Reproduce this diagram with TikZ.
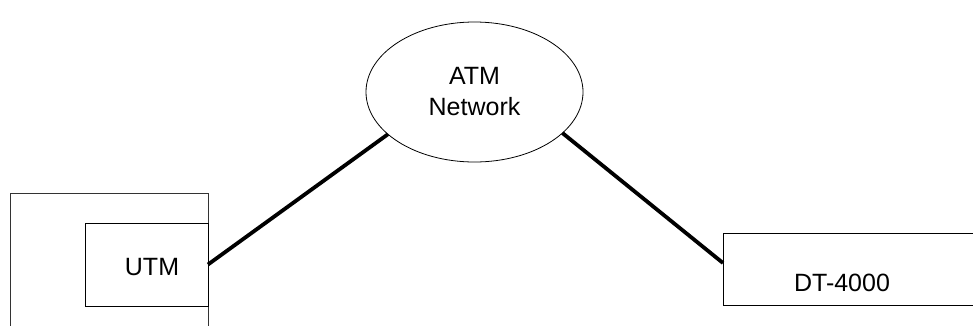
\documentclass[tikz,border=0pt]{standalone}
\usepackage{fontspec}
\setmainfont{Liberation Sans}
\usetikzlibrary{shapes.geometric}
\begin{document}
\begin{tikzpicture}[x=1pt,y=-1pt,
  lbl/.style={font=\fontsize{25}{31}\selectfont, align=center, inner sep=0pt},
  thinbox/.style={draw=black, line width=0.9pt},
  cloud/.style={draw=black, line width=0.8pt, ellipse, minimum width=217pt, minimum height=140pt, inner sep=0pt, outer sep=0pt, lbl},
  boxnode/.style={draw=black, line width=0.9pt, rectangle, minimum width=123pt, minimum height=83pt, inner sep=0pt, outer sep=0pt},
  link/.style={line width=3.8pt, line cap=butt}]
\useasboundingbox (0,0) rectangle (973,325);
\clip (0,0) rectangle (973,325);
\fill[white] (0,0) rectangle (973,325);
% outer frame (continues below the picture)
\draw[thinbox, draw=black!80] (10,340) -- (10,193) -- (208,193) -- (208,340);
% UTM box
\node[boxnode] (utm) at (146.5,264.5) {};
\node[lbl] (utmtext) at (152,267) {UTM};
% ATM network
\node[cloud] (atm) at (474.5,92) {ATM\\Network};
% DT-4000 box (continues past the right edge)
\draw[thinbox] (990,233) -- (723,233) -- (723,305) -- (990,305);
\coordinate (dtin) at (723,263);
\node[lbl] (dt) at (842,283) {DT-4000};
% connectors
\draw[link] (atm.206) -- (utm.east);
\draw[link] (atm.335) -- (dtin);
\end{tikzpicture}
\end{document}
